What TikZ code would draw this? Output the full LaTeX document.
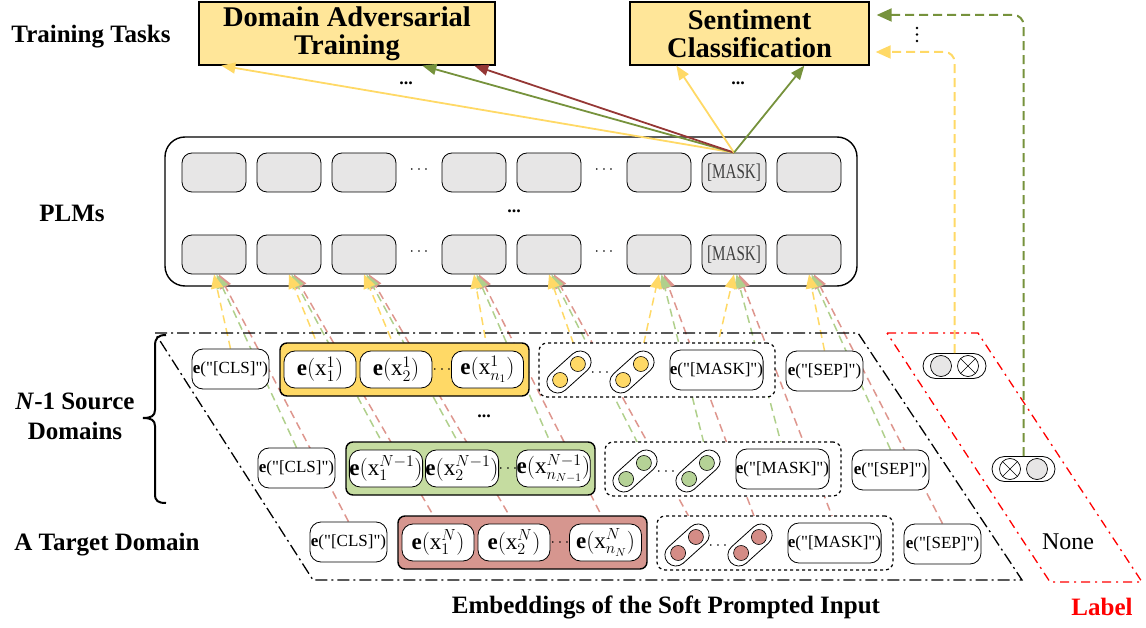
\RequirePackage{fix-cm}
\documentclass[tikz,border=0pt]{standalone}
\usepackage{fontspec}
\setmainfont{Liberation Serif}
\newfontfamily\tokfont{Liberation Serif}
\usetikzlibrary{arrows.meta,calc}
\pgfdeclarelayer{background}
\pgfsetlayers{background,main}
\definecolor{boxyel}{RGB}{255,230,153}
\definecolor{yel}{RGB}{255,217,102}
\definecolor{grnfill}{RGB}{197,220,160}
\definecolor{redfill}{RGB}{214,150,143}
\definecolor{grnln}{RGB}{176,208,140}
\definecolor{redln}{RGB}{222,150,142}
\definecolor{dkgrn}{RGB}{118,146,60}
\definecolor{dkred}{RGB}{149,55,53}
\definecolor{plmgray}{RGB}{231,230,230}
\definecolor{grndot}{RGB}{181,210,150}
\definecolor{reddot}{RGB}{212,140,134}
\tikzset{
  taskbox/.style={draw, line width=1.3pt, fill=boxyel, minimum height=63pt, align=center,
    font=\fontsize{28.5}{28}\selectfont\bfseries, inner sep=0pt},
  lbl/.style={font=\fontsize{25}{30}\selectfont\bfseries, align=center, inner sep=0pt},
  plmouter/.style={draw, line width=1.4pt, rounded corners=20pt, minimum width=692pt, minimum height=149pt, inner sep=0pt},
  plmbox/.style={draw, line width=0.8pt, fill=plmgray, rounded corners=10pt, minimum width=64pt, minimum height=39pt, inner sep=0pt},
  masktxt/.style={font=\fontsize{21}{22}\selectfont, text=black!75},
  tokbox/.style={draw, line width=0.8pt, fill=white, rounded corners=11pt, minimum height=40pt, inner sep=0pt,
    font=\tokfont\fontsize{17}{18}\selectfont},
  grpbox/.style={draw, line width=1.4pt, rounded corners=7pt, minimum width=249pt, minimum height=53pt, inner sep=0pt},
  xbox/.style={draw, line width=0.8pt, fill=white, rounded corners=11pt, minimum width=72pt, minimum height=37pt, inner sep=0pt,
    font=\fontsize{23}{25}\selectfont},
  dashgrp/.style={draw, dashed, line width=1.2pt, fill=white, rounded corners=8pt, minimum width=236pt, minimum height=54pt, inner sep=0pt},
  pillshape/.style={draw, line width=0.8pt, fill=white, rounded corners=11pt, minimum width=52pt, minimum height=22pt, inner sep=0pt},
  dotc/.style={circle, draw, line width=0.6pt, minimum size=15pt, inner sep=0pt},
  dotsn/.style={font=\fontsize{16}{18}\selectfont, inner sep=0pt},
  labpill/.style={draw, line width=0.8pt, fill=white, rounded corners=12.5pt, minimum width=63pt, minimum height=25pt, inner sep=0pt},
  gcirc/.style={circle, draw, line width=0.7pt, fill=plmgray, minimum size=21pt, inner sep=0pt},
  ocirc/.style={circle, draw, line width=0.7pt, fill=white, minimum size=21pt, inner sep=0pt,
    path picture={\draw[line width=0.6pt] (path picture bounding box.north west) -- (path picture bounding box.south east)
      (path picture bounding box.north east) -- (path picture bounding box.south west);}},
  conn/.style={dash pattern=on 8pt off 5pt, line width=1.5pt, -{Triangle[length=14pt,width=12pt]}},
  toparr/.style={line width=1.8pt, -{Triangle[length=14pt,width=11pt]}},
  rdash/.style={dash pattern=on 9pt off 5pt, line width=2pt, rounded corners=10pt, -{Triangle[length=15pt,width=13pt]}},
  embpar/.style={line width=1.3pt, dash pattern=on 12pt off 4pt on 2pt off 4pt},
  labpar/.style={line width=1.3pt, red, dash pattern=on 9pt off 5pt on 2pt off 5pt}
}
\begin{document}
\begin{tikzpicture}[x=1pt,y=-1pt]
\useasboundingbox (0,0) rectangle (1146,628);

% training task boxes
\node[taskbox, minimum width=296pt] (dat) at (347,33.5) {Domain Adversarial\\Training};
\node[taskbox, minimum width=239pt] (sc) at (749.5,33.5) {Sentiment\\Classification};
\node[font=\fontsize{18}{18}\selectfont\bfseries] (tdots1) at (406,83) {...};
\node[font=\fontsize{18}{18}\selectfont\bfseries] (tdots2) at (738,83) {...};
\fill (917,28) circle (1.4pt) (917,34.5) circle (1.4pt) (917,41) circle (1.4pt);

% left labels
\node[lbl] (tt) at (91,37) {Training Tasks};
\node[lbl] (plms) at (72,213) {PLMs};
\node[lbl] (src) at (75,416) {\textit{N}-1 Source\\Domains};
\node[lbl] (tgt) at (107,545) {A Target Domain};
\node[lbl] (emb) at (666,607) {Embeddings of the Soft Prompted Input};
\node[lbl, text=red] (lab) at (1102,607) {Label};
\node[font=\fontsize{24}{26}\selectfont, inner sep=0pt] (none) at (1068,542) {None};

% brace
\draw[line width=2pt] (166,335) .. controls (158,335) and (155,338) .. (155,346) -- (155,410)
  .. controls (155,416) and (151,418) .. (143,418) .. controls (151,418) and (155,420) .. (155,426)
  -- (155,494) .. controls (155,501) and (158,503) .. (166,503);

% parallelograms
\draw[embpar] (155,333) -- (858,333) -- (1022,580) -- (313,580) -- cycle;
\draw[labpar] (887,333) -- (978,333) -- (1142,582) -- (1050,582) -- cycle;

% PLM boxes
\foreach \k/\x in {1/214,2/289,3/364,4/474,5/549,6/659,8/809}{
  \node[plmbox] (pa\k) at (\x,172.5) {};
  \node[plmbox] (pb\k) at (\x,254.5) {};
}
\node[plmbox, masktxt] (pa7) at (734,172.5) {\scalebox{0.72}[1]{[MASK]}};
\node[plmbox, masktxt] (pb7) at (734,254.5) {\scalebox{0.72}[1]{[MASK]}};
\node[dotsn] (da1) at (419,170) {$\cdots$};
\node[dotsn] (da2) at (604,170) {$\cdots$};
\node[dotsn] (db1) at (419,252) {$\cdots$};
\node[dotsn] (db2) at (604,252) {$\cdots$};
\node[font=\fontsize{18}{18}\selectfont\bfseries] (dmid) at (514,211) {...};

% embedding rows
\foreach \ri/\dx/\dy/\su/\nsb/\gf/\dc in {1/0/0/1/n_1/yel/yel,2/66/99/N-1/n_{N-1}/grnfill/grndot,3/118/173/N/n_N/redfill/reddot}{
\begin{scope}[shift={(\dx,\dy)}]
  \node[tokbox, minimum width=77pt] (r\ri cls) at (230.5,369) {\textbf{e}("[CLS]")};
  \node[grpbox, fill=\gf] (r\ri grp) at (404.5,369.5) {};
  \node[xbox] (r\ri x1) at (320,369.5) {$\mathbf{e}(\mathrm{x}^{\su}_{1})$};
  \node[xbox] (r\ri x2) at (396,369.5) {$\mathbf{e}(\mathrm{x}^{\su}_{2})$};
  \node[dotsn] (r\ri gd) at (442,370) {$\cdots$};
  \node[xbox] (r\ri xn) at (487.5,369.5) {$\mathbf{e}(\mathrm{x}^{\su}_{\nsb})$};
  \node[dashgrp] (r\ri dg) at (657,370) {};
  \node[pillshape, rotate=42] (r\ri p1) at (569,372) {};
  \node[dotc, fill=\dc] (r\ri p1a) at (577.9,364) {};
  \node[dotc, fill=\dc] (r\ri p1b) at (560.1,380) {};
  \node[dotsn] (r\ri pd) at (600,373) {$\cdots$};
  \node[pillshape, rotate=42] (r\ri p2) at (632,372) {};
  \node[dotc, fill=\dc] (r\ri p2a) at (640.9,364) {};
  \node[dotc, fill=\dc] (r\ri p2b) at (623.1,380) {};
  \node[tokbox, minimum width=91pt] (r\ri mask) at (716.5,370) {\textbf{e}("[MASK]")};
  \node[tokbox, minimum width=77pt] (r\ri sep) at (824.5,371) {\textbf{e}("[SEP]")};
\end{scope}
}
\node[font=\fontsize{18}{18}\selectfont\bfseries] (rdots) at (484,416) {...};

% label nodes
\node[labpill] (lab1) at (954.5,366) {};
\node[gcirc] (lab1a) at (941,366) {};
\node[ocirc] (lab1b) at (968,366) {};
\node[labpill] (lab2) at (1023.5,469) {};
\node[ocirc] (lab2a) at (1010,469) {};
\node[gcirc] (lab2b) at (1037,469) {};

% connectors behind
\begin{pgfonlayer}{background}
\node[plmouter] (plm) at (511,211.5) {};
\foreach \ri/\cl/\o in {3/redln/5,2/grnln/2.5,1/yel/0}{
  \draw[conn, color=\cl] (r\ri cls.north) -- ([xshift=\o pt]pb1.south);
  \draw[conn, color=\cl] (r\ri x1.north) -- ([xshift=\o pt]pb2.south);
  \draw[conn, color=\cl] (r\ri x2.north) -- ([xshift=\o pt]pb3.south);
  \draw[conn, color=\cl] (r\ri xn.north) -- ([xshift=\o pt]pb4.south);
  \draw[conn, color=\cl] (r\ri p1a.north) -- ([xshift=\o pt]pb5.south);
  \draw[conn, color=\cl] (r\ri p2a.north) -- ([xshift=\o pt]pb6.south);
  \draw[conn, color=\cl] (r\ri mask.north) -- ([xshift=\o pt]pb7.south);
  \draw[conn, color=\cl] (r\ri sep.north) -- ([xshift=\o pt]pb8.south);
}
\end{pgfonlayer}

% top arrows
\draw[toparr, color=yel] (pa7.north) -- ([xshift=23pt]dat.south west);
\draw[toparr, color=dkgrn] (pa7.north) -- ([xshift=224pt]dat.south west);
\draw[toparr, color=dkred] (pa7.north) -- ([xshift=276pt]dat.south west);
\draw[toparr, color=yel] (pa7.north) -- ([xshift=47pt]sc.south west);
\draw[toparr, color=dkgrn] (pa7.north) -- ([xshift=175pt]sc.south west);

% label feedback arrows
\draw[rdash, color=dkgrn] (lab2.north) |- ([xshift=7pt,yshift=18.5pt]sc.east);
\draw[rdash, color=yel] (lab1.north) |- ([xshift=6pt,yshift=-18.5pt]sc.east);
\end{tikzpicture}
\end{document}
